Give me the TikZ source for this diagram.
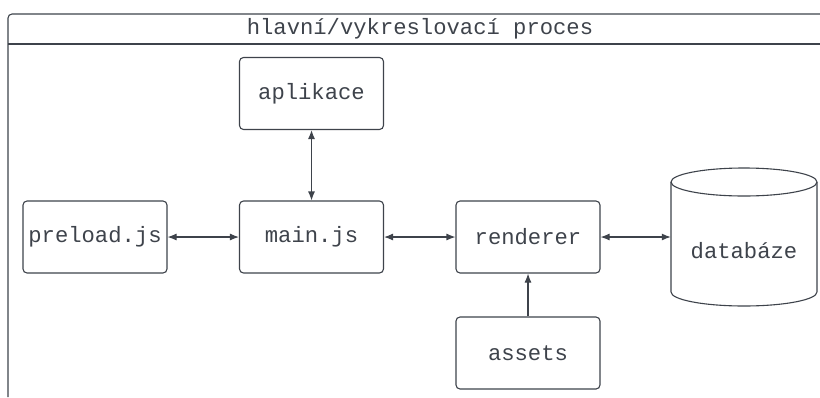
\documentclass[tikz,border=0pt]{standalone}
\usepackage{fontspec}
\setmonofont{Liberation Mono}
\usetikzlibrary{arrows.meta}
\definecolor{ink}{RGB}{62,67,75}

\begin{document}
\begin{tikzpicture}[x=1pt,y=-1pt,
  box/.style={draw=ink,line width=1.1pt,rounded corners=4pt,minimum width=144pt,minimum height=72pt,
    text=ink,font=\ttfamily\fontsize{22.2}{24}\selectfont},
  link/.style={draw=ink,line width=1.1pt,{Latex[length=9pt,width=7pt]}-{Latex[length=9pt,width=7pt]}}]
 \useasboundingbox (0,0) rectangle (820,397);
 % frame of the process
 \draw[ink,line width=1.1pt,rounded corners=4pt] (8,397) -- (8,14) -- (830,14);
 \draw[ink,line width=1.1pt] (8,44) -- (820,44);
 \node[text=ink,font=\ttfamily\fontsize{22.2}{24}\selectfont] (title) at (420,29) {hlavní/vykreslovací proces};
 % boxes
 \node[box] (app) at (311.5,93.5) {aplikace};
 \node[box] (pre) at (95,237) {preload.js};
 \node[box] (main) at (311.5,237) {main.js};
 \node[box] (rend) at (528,237) {renderer};
 \node[box] (assets) at (528,353) {assets};
 % database
 \draw[ink,line width=1.1pt,fill=white] (671,182) -- (671,292) arc[start angle=180,end angle=0,x radius=73,y radius=14] -- (817,182);
 \draw[ink,line width=1.1pt] (744,182) ellipse[x radius=73,y radius=14];
 \node[minimum width=146pt,minimum height=138pt,inner sep=0pt] (db) at (744,237) {};
 \node[text=ink,font=\ttfamily\fontsize{22.2}{24}\selectfont] at (744,251) {databáze};
 % connections
 \draw[link] (app) -- (main);
 \draw[link] (pre) -- (main);
 \draw[link] (main) -- (rend);
 \draw[link] (rend) -- (db.west);
 \draw[draw=ink,line width=1.1pt,-{Latex[length=9pt,width=7pt]}] (assets) -- (rend);
\end{tikzpicture}
\end{document}
